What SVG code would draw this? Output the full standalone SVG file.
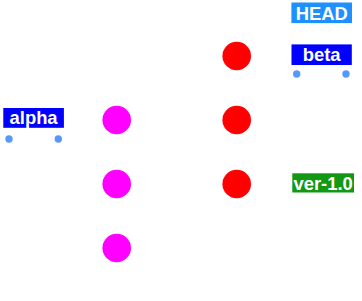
<svg xmlns="http://www.w3.org/2000/svg" width="362" height="301" viewBox="0 0 362 301">
<style>
.lbl{font-family:"Liberation Sans",Arial,sans-serif;font-size:18.4px;font-weight:bold;fill:#fff;text-anchor:middle}
.m{fill:#ff00ff}
.r{fill:#ff0000}
.dot{fill:#5599ff}
</style>
<rect width="362" height="301" fill="#fff"/>
<g id="connectors"></g>
<g id="c1"><circle class="m" cx="116.7" cy="120" r="14.3"/></g>
<g id="c2"><circle class="m" cx="116.7" cy="184" r="14.3"/></g>
<g id="c3"><circle class="m" cx="116.7" cy="248" r="14.3"/></g>
<g id="c4"><circle class="r" cx="236.7" cy="56" r="14.3"/></g>
<g id="c5"><circle class="r" cx="236.7" cy="120" r="14.3"/></g>
<g id="c6"><circle class="r" cx="236.7" cy="184" r="14.3"/></g>
<g id="head"><rect x="291.4" y="2.5" width="60.6" height="20.6" fill="#1e90ff"/><text class="lbl" x="321.7" y="20">HEAD</text></g>
<g id="beta"><rect x="291.5" y="44.4" width="60.3" height="20.6" fill="#0000ff"/><text class="lbl" x="321.7" y="61">beta</text><circle class="dot" cx="296.7" cy="74" r="3.7"/><circle class="dot" cx="346" cy="74" r="3.7"/></g>
<g id="alpha"><rect x="3.3" y="108" width="60.6" height="19.8" fill="#0000ff"/><text class="lbl" x="33.6" y="124.4">alpha</text><circle class="dot" cx="9" cy="139" r="3.7"/><circle class="dot" cx="58.3" cy="139" r="3.7"/></g>
<g id="ver"><rect x="292.3" y="173.3" width="61.7" height="19.2" fill="#129812"/><text class="lbl" x="323.1" y="189.5">ver-1.0</text></g>
</svg>
